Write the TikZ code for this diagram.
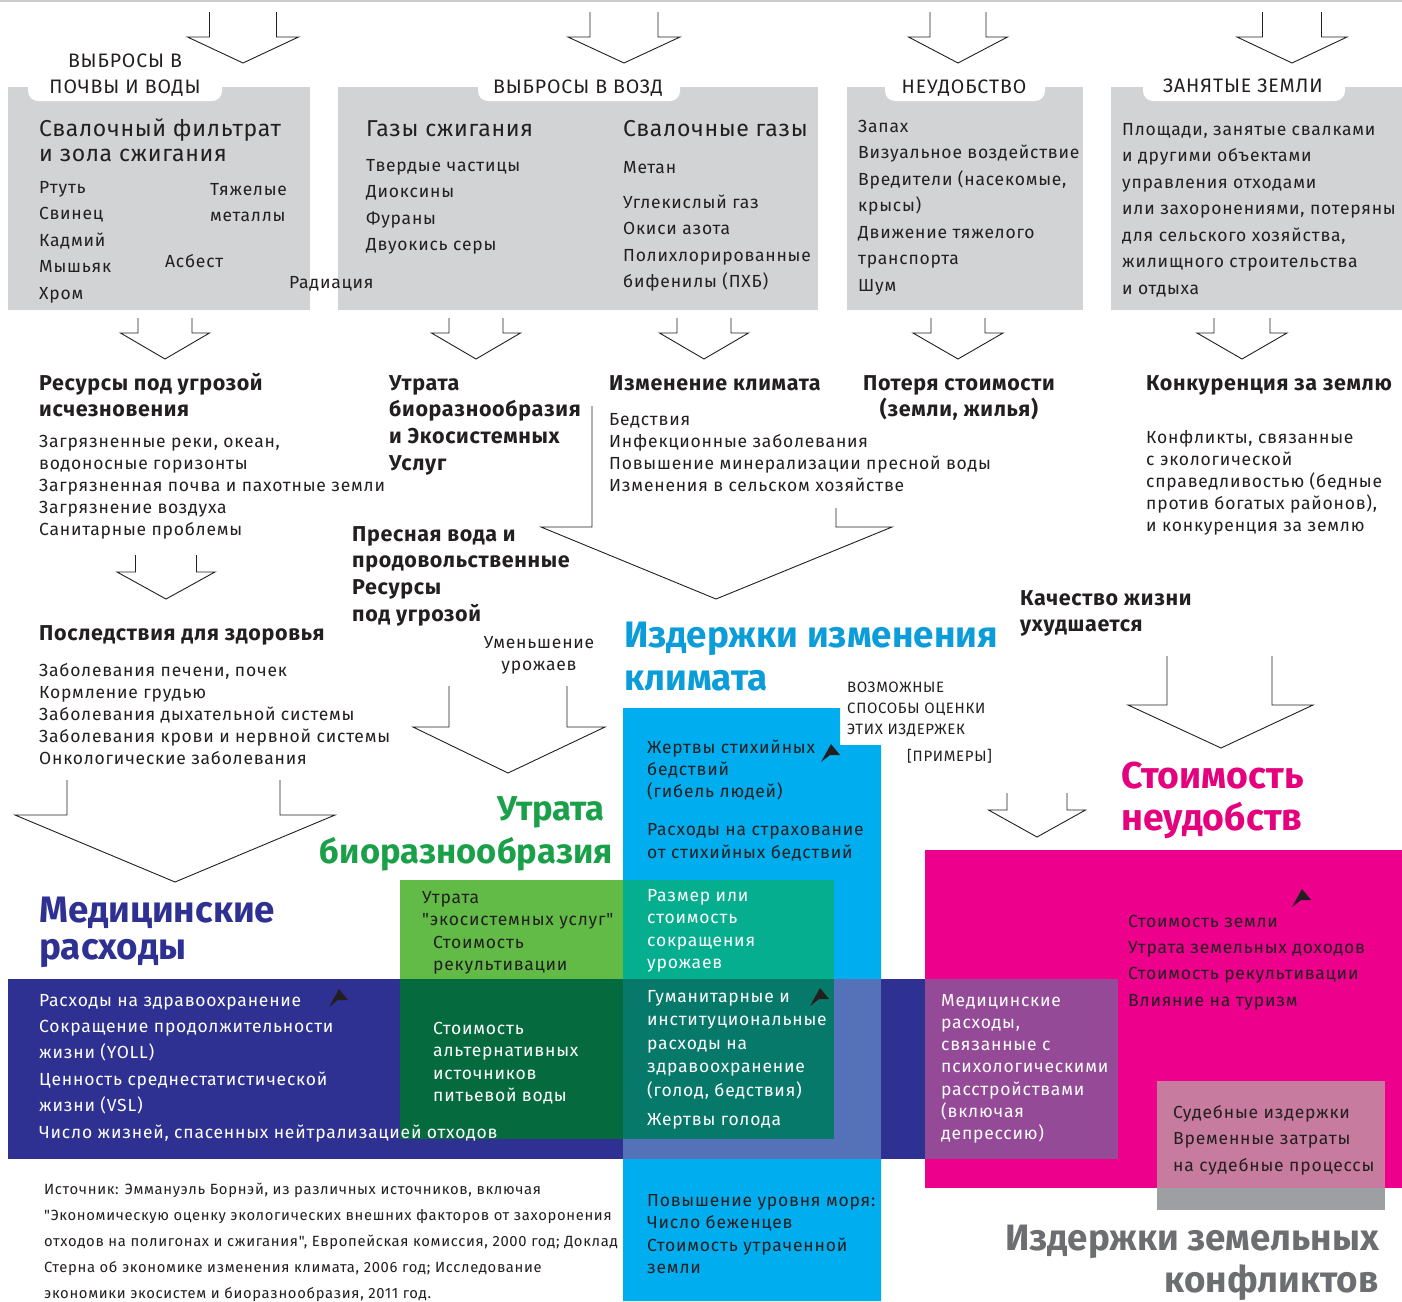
\documentclass[tikz,border=0pt]{standalone}
\usepackage{fontspec}
\setmainfont{Fira Sans}
\newfontfamily\reg{Fira Sans}[LetterSpace=4.5,Ligatures=TeXOff]
\newfontfamily\hd{Fira Sans}[LetterSpace=3]
\newcommand{\fs}[2]{\fontsize{#1}{#2}\selectfont}
\definecolor{boxgray}{HTML}{D1D3D4}
\definecolor{ink}{HTML}{231F20}
\definecolor{cyanC}{HTML}{00AEEF}
\definecolor{navyC}{HTML}{2E3192}
\definecolor{lnavyC}{HTML}{5571B8}
\definecolor{greenC}{HTML}{62BB46}
\definecolor{tealC}{HTML}{05AE8E}
\definecolor{dgreenC}{HTML}{056B3E}
\definecolor{dtealC}{HTML}{06796A}
\definecolor{magC}{HTML}{EC008C}
\definecolor{purpC}{HTML}{944A97}
\definecolor{pinkC}{HTML}{C77C9F}
\definecolor{grayC}{HTML}{9D9FA2}
\definecolor{tcyan}{HTML}{0B9DD9}
\definecolor{tgreen}{HTML}{1BA04A}
\definecolor{tmag}{HTML}{E5007D}
\definecolor{tgray}{HTML}{6D6E71}
\newcommand{\openarrow}[6]{% cx, half stem, half wing, ytop, yshoulder, ytip
  \draw[arrline] ({#1-#2},#4) -- ({#1-#2},#5) -- ({#1-#3},#5) -- (#1,#6) -- ({#1+#3},#5) -- ({#1+#2},#5) -- ({#1+#2},#4);}
\newcommand{\arrhd}[2]{\fill[ink] (#1,#2) -- ({#1+9},{#2+11}) -- ({#1-1},{#2+11}) -- ({#1-10},{#2+18}) -- cycle;}
\tikzset{
  arrline/.style={draw=ink, line width=0.9pt, line join=miter},
  txt/.style={anchor=base west, inner sep=0pt, align=left, text=ink, font=\reg\fs{17.5}{26.5}},
  tab/.style={anchor=base, inner sep=0pt, text=ink, font=\reg\fs{19.5}{26}},
  head/.style={txt, font=\hd\bfseries\fs{21.5}{26.7}},
  big/.style={txt, font=\bfseries\fs{37}{42}},
  tabbg/.style={fill=white, rounded corners=10pt}
}
\begin{document}
\begin{tikzpicture}[x=1pt,y=-1pt]
\useasboundingbox (0,0) rectangle (1402,1301);
\fill[white] (0,0) rectangle (1402,1301);
\draw[black!20, line width=1.5pt] (0,1) -- (1402,1);
% ---------- gray boxes
\fill[boxgray] (8,87) rectangle (310,310);
\fill[tabbg] (28,76) rectangle (222,101);
\fill[boxgray] (338,87) rectangle (818,310);
\fill[tabbg] (478,76) rectangle (680,101);
\fill[boxgray] (847,87) rectangle (1083,310);
\fill[tabbg] (885,76) rectangle (1045,101);
\fill[boxgray] (1111,87) rectangle (1402,310);
\fill[tabbg] (1143,76) rectangle (1345,101);
% ---------- top arrows
\openarrow{243}{33.5}{55.5}{12}{37}{63}
\openarrow{624}{34}{56}{12}{37}{63}
\openarrow{958}{28}{49.5}{12}{37}{63}
\openarrow{1292}{29.5}{55}{12}{37}{63}
\node[tab] (tab1a) at (125,67) {ВЫБРОСЫ В};
\node[tab] (tab1b) at (125,93) {ПОЧВЫ И ВОДЫ};
\node[tab] (tab2) at (578,93) {ВЫБРОСЫ В ВОЗД};
\node[tab] (tab3) at (964,93) {НЕУДОБСТВО};
\node[tab] (tab4) at (1243,92) {ЗАНЯТЫЕ ЗЕМЛИ};
% box 1 (base = last line)
\node[txt, font=\hd\fs{23}{25}] (b1t) at (39,161) {Свалочный фильтрат\\и зола сжигания};
\node[txt] (b1l) at (39,299) {Ртуть\\Свинец\\Кадмий\\Мышьяк\\Хром};
\node[txt] (b1r) at (210,221.5) {Тяжелые\\металлы};
\node[txt] (b1a) at (165,267) {Асбест};
\node[txt] (b1rad) at (289,288) {Радиация};
% box 2
\node[txt, font=\hd\fs{23}{25}] (b2t) at (366,136) {Газы сжигания};
\node[txt] (b2l) at (366,250.5) {Твердые частицы\\Диоксины\\Фураны\\Двуокись серы};
\node[txt, font=\hd\fs{23}{25}] (b2t2) at (623,136) {Свалочные газы};
\node[txt] (b2m) at (623,173) {Метан};
\node[txt] (b2r) at (623,287.5) {Углекислый газ\\Окиси азота\\Полихлорированные\\бифенилы (ПХБ)};
% box 3
\node[txt] (b3) at (858,291) {Запах\\Визуальное воздействие\\Вредители (насекомые,\\крысы)\\Движение тяжелого\\транспорта\\Шум};
% box 4
\node[txt] (b4) at (1122,294) {Площади, занятые свалками\\и другими объектами\\управления отходами\\или захоронениями, потеряны\\для сельского хозяйства,\\жилищного строительства\\и отдыха};
% ---------- second row arrows
\openarrow{165}{27}{44.5}{318}{333}{359}
\openarrow{476}{27}{44.5}{318}{333}{359}
\openarrow{704}{27}{44.5}{318}{333}{359}
\openarrow{958}{27}{45}{318}{333}{359}
\openarrow{1242}{28}{45}{318}{333}{359}
% ---------- row 3
\node[head] (r1h) at (39,416.7) {Ресурсы под угрозой\\исчезновения};
\node[txt, font=\reg\fs{17.5}{22.2}] (r1i) at (39,535.8) {Загрязненные реки, океан,\\водоносные горизонты\\Загрязненная почва и пахотные земли\\Загрязнение воздуха\\Санитарные проблемы};
\node[head] (r2h) at (389,470.1) {Утрата\\биоразнообразия\\и Экосистемных\\Услуг};
\node[head] (r3h) at (609,390) {Изменение климата};
\node[txt, font=\reg\fs{17.5}{22}] (r3i) at (609,491) {Бедствия\\Инфекционные заболевания\\Повышение минерализации пресной воды\\Изменения в сельском хозяйстве};
\node[head, anchor=base, align=center] (r4h) at (959,416.7) {Потеря стоимости\\(земли, жилья)};
\node[head] (r5h) at (1146,390) {Конкуренция за землю};
\node[txt, font=\reg\fs{17.5}{22.2}] (r5i) at (1146,531.8) {Конфликты, связанные\\с экологической\\справедливостью (бедные\\против богатых районов),\\и конкуренция за землю};
% big arrow to climate costs
\draw[arrline] (592,406) -- (592,527) -- (541,527) -- (716,599) -- (892,527) -- (836,527) -- (836,508);
\openarrow{166}{30.5}{49}{555}{572}{599}
\node[head] (fw) at (352,621.1) {Пресная вода и\\продовольственные\\Ресурсы\\под угрозой};
\node[txt, anchor=base, align=center, font=\reg\fs{17.5}{22}] (ur) at (539,670) {Уменьшение\\урожаев};
\node[head] (hh) at (39,640) {Последствия для здоровья};
\node[txt, font=\reg\fs{17.5}{22.2}] (hi) at (39,764.8) {Заболевания печени, почек\\Кормление грудью\\Заболевания дыхательной системы\\Заболевания крови и нервной системы\\Онкологические заболевания};
\node[head] (ql) at (1020,631.7) {Качество жизни\\ухудшается};
% arrows middle
\draw[arrline] (449,686) -- (449,727) -- (413,727) -- (508,773) -- (605,727) -- (567,727) -- (567,686);
\draw[arrline] (67,780) -- (67,815) -- (15,815) -- (175,882) -- (335,815) -- (280,815) -- (280,780);
\draw[arrline] (1167,656) -- (1167,705) -- (1128,705) -- (1221,748) -- (1313,705) -- (1272,705) -- (1272,656);
\openarrow{1037}{30}{48.5}{793}{810}{837}
% ---------- coloured blocks
\fill[cyanC] (623,708) -- (840,708) -- (840,745) -- (881,745) -- (881,1301) -- (623,1301) -- cycle;
\fill[navyC] (8,979) rectangle (925,1159);
\fill[lnavyC] (623,979) rectangle (881,1159);
\fill[greenC] (400,880) rectangle (623,979);
\fill[tealC] (623,880) rectangle (834,979);
\fill[dgreenC] (400,979) rectangle (623,1139);
\fill[dtealC] (623,979) rectangle (834,1139);
\fill[magC] (925,850) rectangle (1402,1188);
\fill[purpC] (925,979) rectangle (1118,1159);
\fill[pinkC] (1157,1081) rectangle (1385,1188);
\fill[grayC] (1157,1188) rectangle (1385,1210);
% big titles
\node[big, text=tcyan, font=\bfseries\fs{36.8}{43}] (tcl) at (624,690) {Издержки изменения\\климата};
\node[txt, font=\reg\fs{15}{21}] (meth) at (847,734) {ВОЗМОЖНЫЕ\\СПОСОБЫ ОЦЕНКИ\\ЭТИХ ИЗДЕРЖЕК};
\node[txt, font=\reg\fs{15}{21}] (ex) at (907,761) {[ПРИМЕРЫ]};
\node[big, text=tmag, font=\bfseries\fs{37.4}{42}] (tdis) at (1121,830) {Стоимость\\неудобств};
\node[big, text=tgreen, anchor=base east, font=\bfseries\fs{34.5}{43}] (tbio1) at (605,820) {Утрата};
\node[big, text=tgreen, anchor=base east, font=\bfseries\fs{34.5}{43}] (tbio2) at (613,863) {биоразнообразия};
\node[big, text=navyC, font=\bfseries\fs{36.8}{37}] (tmed) at (39,959) {Медицинские\\расходы};
\node[big, text=tgray, anchor=base east, align=right, font=\bfseries\fs{36.7}{42}] (tland) at (1379,1292) {Издержки земельных\\конфликтов};
% texts in coloured blocks
\node[txt, font=\reg\fs{17.5}{22}] (c1) at (647,797) {Жертвы стихийных\\бедствий\\(гибель людей)};
\node[txt, font=\reg\fs{17.5}{23}] (c2) at (647,858) {Расходы на страхование\\от стихийных бедствий};
\node[txt, text=white, font=\reg\fs{17.5}{22.5}] (c3) at (647,968.5) {Размер или\\стоимость\\сокращения\\урожаев};
\node[txt, text=white, font=\reg\fs{17.5}{23.5}] (c4) at (647,1096) {Гуманитарные и\\институциональные\\расходы на\\здравоохранение\\(голод, бедствия)};
\node[txt, text=white] (c5) at (647,1125) {Жертвы голода};
\node[txt, font=\reg\fs{17.5}{22.5}] (c6) at (647,1273.5) {Повышение уровня моря:\\Число беженцев\\Стоимость утраченной\\земли};
\node[txt, font=\reg\fs{17.5}{22}] (g1) at (422,925) {Утрата\\"экосистемных услуг"};
\node[txt, font=\reg\fs{17.5}{22}] (g2) at (433,970) {Стоимость\\рекультивации};
\node[txt, text=white, font=\reg\fs{17.5}{22.5}] (g3) at (433,1101.5) {Стоимость\\альтернативных\\источников\\питьевой воды};
\node[txt, text=white, font=\reg\fs{17.5}{26.4}] (n1) at (39,1138) {Расходы на здравоохранение\\Сокращение продолжительности\\жизни (YOLL)\\Ценность среднестатистической\\жизни (VSL)\\Число жизней, спасенных нейтрализацией отходов};
\node[txt, text=white, font=\reg\fs{17.5}{22.3}] (p1) at (941,1139.8) {Медицинские\\расходы,\\связанные с\\психологическими\\расстройствами\\(включая\\депрессию)};
\node[txt, font=\reg\fs{17.5}{26.4}] (m1) at (1128,1006.2) {Стоимость земли\\Утрата земельных доходов\\Стоимость рекультивации\\Влияние на туризм};
\node[txt, font=\reg\fs{17.5}{26.5}] (k1) at (1173,1171) {Судебные издержки\\Временные затраты\\на судебные процессы};
\node[txt, font=\reg\fs{14.8}{26.2}] (src) at (44,1298.8) {Источник: Эммануэль Борнэй, из различных источников, включая\\"Экономическую оценку экологических внешних факторов от захоронения\\отходов на полигонах и сжигания", Европейская комиссия, 2000 год; Доклад\\Стерна об экономике изменения климата, 2006 год; Исследование\\экономики экосистем и биоразнообразия, 2011 год.};
% small pointers
\arrhd{831}{744}
\arrhd{339}{989}
\arrhd{820}{988}
\arrhd{1302}{889}
\end{tikzpicture}
\end{document}
